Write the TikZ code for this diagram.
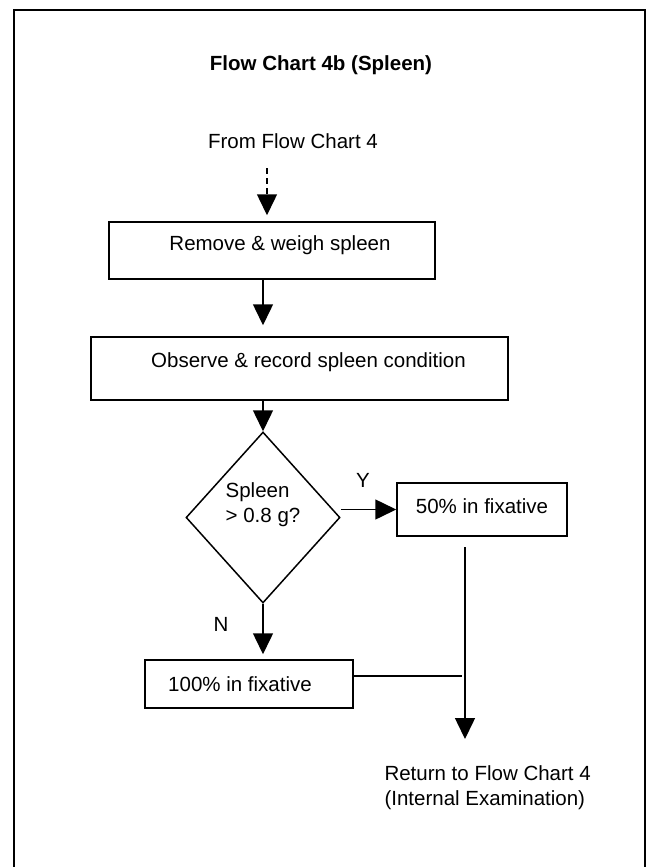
\documentclass[tikz,border=0pt]{standalone}
\usepackage{fontspec}
\setmainfont{Liberation Sans}
\usetikzlibrary{arrows.meta, shapes.geometric, positioning}

\begin{document}
\begin{tikzpicture}[x=1pt, y=-1pt,
  every node/.style={font=\fontsize{20.5}{25}\selectfont},
  box/.style={draw, line width=1.5pt, rectangle, inner sep=0pt},
  decision/.style={draw, line width=1.5pt, diamond, inner sep=0pt,
    minimum width=154pt, minimum height=171pt, align=left},
  flow/.style={line width=1.5pt, -{Triangle[width=20pt,length=21pt]}},
  link/.style={line width=1.5pt}]

% page size and open frame
\useasboundingbox (0,0) rectangle (648,867);
\draw[line width=2pt] (14,870) -- (14,10) -- (645,10) -- (645,870);

% title and entry text
\node (title) at (321,65) {\bfseries Flow Chart 4b (Spleen)};
\node (from) at (293,141) {From Flow Chart 4};

% steps (text depth lifts the text a little, as in the original)
\node[box, minimum width=326pt, minimum height=57pt, text depth=15pt] (weigh) at (272,250.5) {\hspace*{16pt}Remove \& weigh spleen};
\node[box, minimum width=417pt, minimum height=63pt, text depth=17pt] (observe) at (299.5,368.5) {\hspace*{18pt}Observe \& record spleen condition};
\node[decision, text depth=29pt] (spleen) at (263,517.5) {Spleen\\> 0.8 g?};
\node[box, minimum width=170pt, minimum height=53pt, text depth=7pt] (half) at (482,509.5) {50\% in fixative};
\node[box, minimum width=208pt, minimum height=48pt] (full) at (249,684) {100\% in fixative\hspace*{18pt}};
\node[align=left, anchor=west] (back) at (381,787.5) {Return to Flow Chart 4\\(Internal Examination)};

% branch labels
\node (yes) at (363,480) {Y};
\node (no) at (221,624) {N};

% free ends
\coordinate (entry) at (267,168);
\coordinate (drop) at (465,547);
\coordinate (exit) at (465,739);
\coordinate (join) at (465,676);

% connectors
\draw[flow, dash pattern=on 6pt off 4pt, shorten >=6pt] (entry) -- (entry |- weigh.north);
\draw[flow, shorten >=11pt] (spleen.north |- weigh.south) -- (spleen.north |- observe.north);
\draw[flow] (spleen.north |- observe.south) -- (spleen.north);
\draw[flow] (spleen.east |- half.west) -- (half.west);
\draw[flow, shorten >=5pt] (spleen.south) -- (spleen.south |- full.north);
\draw[flow] (drop) -- (exit);
\draw[link, shorten >=3pt] (join -| full.east) -- (join);

\end{tikzpicture}
\end{document}
